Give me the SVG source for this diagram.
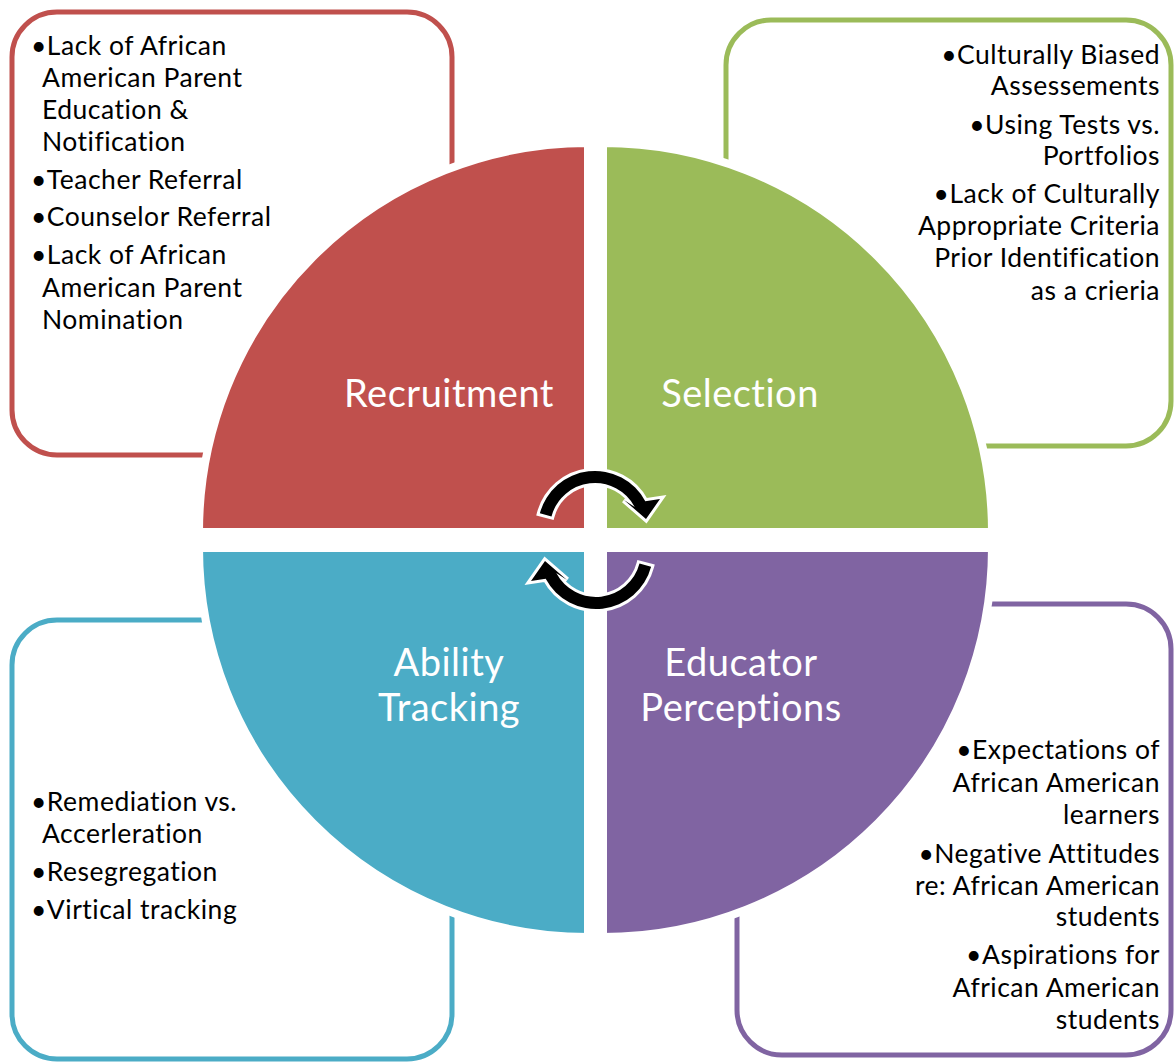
<svg xmlns="http://www.w3.org/2000/svg" width="1174" height="1062" viewBox="0 0 1174 1062">
<style>
.box{fill:#fff;stroke-width:5}
.q{stroke:#fff;stroke-width:8}
.t{font-family:Lato,"Liberation Sans",sans-serif;font-size:26.5px;letter-spacing:0.5px;fill:#000}
.r{text-anchor:end}
.lbl{font-family:Lato,"Liberation Sans",sans-serif;font-size:38px;letter-spacing:0.5px;fill:#fff;text-anchor:middle}
.arr{fill:#000;stroke:#fff;stroke-width:6;stroke-linejoin:miter;paint-order:stroke}
</style>
<rect width="1174" height="1062" fill="#fff"/>
<g id="box-recruitment"><rect class="box" x="12" y="12" width="440" height="443" rx="45" stroke="#C0504D"/>
<text class="t" x="31" y="55">•Lack of African</text>
<text class="t" x="42" y="87">American Parent</text>
<text class="t" x="42" y="119">Education &amp;</text>
<text class="t" x="42" y="151">Notification</text>
<text class="t" x="31" y="189">•Teacher Referral</text>
<text class="t" x="31" y="226">•Counselor Referral</text>
<text class="t" x="31" y="264">•Lack of African</text>
<text class="t" x="42" y="297">American Parent</text>
<text class="t" x="42" y="329">Nomination</text>
</g>
<g id="box-selection"><rect class="box" x="726" y="20" width="445" height="426" rx="45" stroke="#9BBB59"/>
<text class="t r" x="1160" y="64">•Culturally Biased</text>
<text class="t r" x="1160" y="95">Assessements</text>
<text class="t r" x="1160" y="134">•Using Tests vs.</text>
<text class="t r" x="1160" y="165">Portfolios</text>
<text class="t r" x="1160" y="203">•Lack of Culturally</text>
<text class="t r" x="1160" y="235">Appropriate Criteria</text>
<text class="t r" x="1160" y="267">Prior Identification</text>
<text class="t r" x="1160" y="300">as a crieria</text>
</g>
<g id="box-tracking"><rect class="box" x="12" y="620" width="440" height="439" rx="45" stroke="#4BACC6"/>
<text class="t" x="31" y="811">•Remediation vs.</text>
<text class="t" x="42" y="843">Accerleration</text>
<text class="t" x="31" y="881">•Resegregation</text>
<text class="t" x="31" y="919">•Virtical tracking</text>
</g>
<g id="box-perceptions"><rect class="box" x="737" y="604" width="434" height="451" rx="45" stroke="#8064A2"/>
<text class="t r" x="1160" y="759">•Expectations of</text>
<text class="t r" x="1160" y="792">African American</text>
<text class="t r" x="1160" y="824">learners</text>
<text class="t r" x="1160" y="863">•Negative Attitudes</text>
<text class="t r" x="1160" y="895">re: African American</text>
<text class="t r" x="1160" y="926">students</text>
<text class="t r" x="1160" y="964">•Aspirations for</text>
<text class="t r" x="1160" y="997">African American</text>
<text class="t r" x="1160" y="1029">students</text>
</g>
<g id="q-recruitment"><path class="q" d="M588,532 L199,532 A389,389 0 0 1 588,143 Z" fill="#C0504D"/>
<text class="lbl" x="449" y="407">Recruitment</text></g>
<g id="q-selection"><path class="q" d="M603,532 L603,143 A389,389 0 0 1 992,532 Z" fill="#9BBB59"/>
<text class="lbl" x="740" y="407">Selection</text></g>
<g id="q-tracking"><path class="q" d="M588,548 L588,937 A389,389 0 0 1 199,548 Z" fill="#4BACC6"/>
<text class="lbl" x="449" y="676">Ability</text>
<text class="lbl" x="449" y="721">Tracking</text></g>
<g id="q-perceptions"><path class="q" d="M603,548 L992,548 A389,389 0 0 1 603,937 Z" fill="#8064A2"/>
<text class="lbl" x="741" y="676">Educator</text>
<text class="lbl" x="741" y="721">Perceptions</text></g>
<g id="connectors">
<path id="arrow-top" class="arr" d="M539.9,513.3 A57,57 0 0 1 645.3,501.2 L660,499 L646,519 L624,500 L634.7,506.9 A45,45 0 0 0 551.5,516.4 Z"/>
<path id="arrow-bottom" class="arr" transform="rotate(180 595.5 540)" d="M539.9,513.3 A57,57 0 0 1 645.3,501.2 L660,499 L646,519 L624,500 L634.7,506.9 A45,45 0 0 0 551.5,516.4 Z"/>
</g>
</svg>
